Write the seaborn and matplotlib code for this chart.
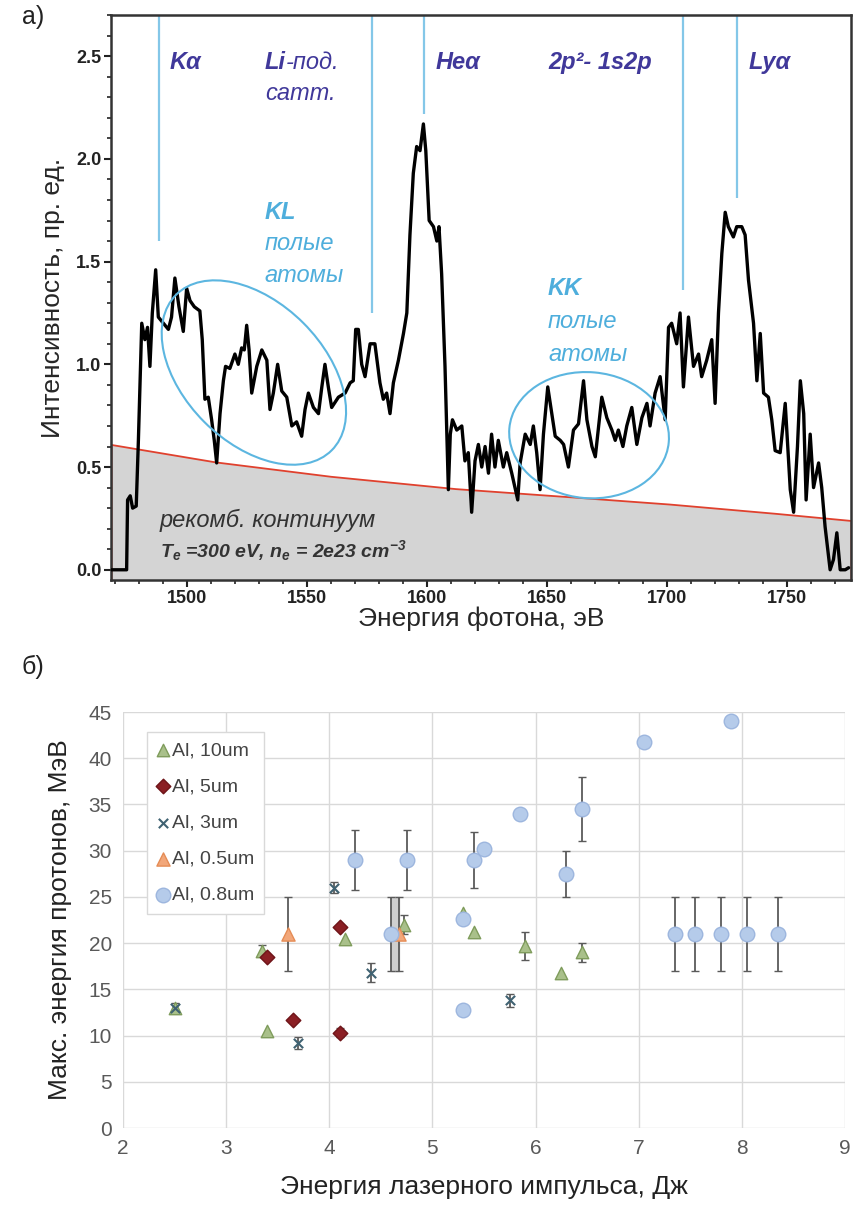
import numpy as np
import matplotlib
matplotlib.use("Agg")
import matplotlib.pyplot as plt
import matplotlib.transforms as mtransforms
from matplotlib.patches import Ellipse
from matplotlib.ticker import MultipleLocator
import seaborn as sns

# ---- panel a) spectrum ----
energy_ev = [1468.5, 1475.0, 1475.4, 1476.5, 1477.5, 1479.0, 1479.9, 1481.3, 1482.6, 1483.7,
             1484.7, 1485.7, 1487.1, 1488.2, 1490.3, 1492.4, 1493.7, 1495.1, 1496.8, 1498.6,
             1500.0, 1501.4, 1503.2, 1505.5, 1506.5, 1507.6, 1509.0, 1510.4, 1511.5, 1512.5,
             1513.9, 1515.3, 1516.2, 1518.0, 1520.1, 1521.5, 1522.9, 1524.0, 1525.0, 1526.0,
             1527.1, 1529.2, 1531.3, 1533.4, 1534.7, 1536.1, 1537.9, 1539.6, 1541.7, 1543.8,
             1545.8, 1547.9, 1549.3, 1550.7, 1552.8, 1554.9, 1556.3, 1557.6, 1559.0, 1560.4,
             1563.2, 1566.0, 1568.1, 1569.4, 1570.4, 1571.5, 1572.9, 1574.3, 1576.4, 1578.4,
             1580.5, 1581.9, 1583.3, 1584.7, 1586.1, 1588.2, 1590.3, 1591.7, 1593.0, 1594.4,
             1595.8, 1597.2, 1598.6, 1599.6, 1601.0, 1602.8, 1604.2, 1605.1, 1606.2, 1607.6,
             1609.0, 1609.8, 1610.7, 1612.5, 1614.6, 1615.9, 1617.3, 1618.7, 1620.1, 1621.5,
             1622.9, 1624.3, 1625.7, 1627.0, 1628.4, 1629.8, 1631.9, 1633.3, 1635.4, 1637.9,
             1638.9, 1641.0, 1643.1, 1644.4, 1645.8, 1647.2, 1648.6, 1650.4, 1652.1, 1653.5,
             1655.6, 1657.0, 1659.0, 1661.1, 1663.2, 1665.3, 1666.7, 1668.8, 1670.2, 1672.9,
             1675.0, 1677.1, 1678.5, 1679.8, 1681.7, 1683.3, 1685.4, 1687.5, 1689.6, 1691.7,
             1693.0, 1695.1, 1697.2, 1699.3, 1700.7, 1702.0, 1704.1, 1705.5, 1706.9, 1709.0,
             1711.1, 1713.2, 1714.5, 1716.6, 1718.7, 1720.1, 1721.5, 1722.9, 1724.3, 1725.6,
             1727.7, 1729.1, 1731.2, 1732.6, 1734.0, 1736.1, 1737.5, 1738.9, 1740.3, 1742.3,
             1743.7, 1745.1, 1747.2, 1749.3, 1751.4, 1752.8, 1754.4, 1755.6, 1757.0, 1758.0,
             1759.7, 1761.1, 1763.2, 1764.5, 1765.9, 1768.0, 1769.4, 1770.8, 1772.2, 1774.3,
             1775.7]
intensity = [0.00, 0.00, 0.34, 0.36, 0.30, 0.31, 0.63, 1.20, 1.12, 1.18,
             0.99, 1.25, 1.46, 1.23, 1.20, 1.17, 1.23, 1.42, 1.28, 1.16,
             1.37, 1.31, 1.28, 1.26, 1.12, 0.83, 0.84, 0.73, 0.63, 0.52,
             0.76, 0.92, 0.99, 0.98, 1.05, 1.00, 1.08, 1.07, 1.19, 1.07,
             0.86, 0.99, 1.07, 1.02, 0.78, 0.86, 1.00, 0.87, 0.84, 0.70,
             0.72, 0.65, 0.78, 0.86, 0.79, 0.76, 0.89, 1.00, 0.89, 0.79,
             0.84, 0.86, 0.91, 0.92, 1.17, 1.17, 1.00, 0.94, 1.10, 1.10,
             0.91, 0.83, 0.86, 0.76, 0.91, 1.02, 1.15, 1.25, 1.63, 1.93,
             2.06, 2.04, 2.17, 2.04, 1.70, 1.67, 1.60, 1.67, 1.44, 0.99,
             0.39, 0.66, 0.73, 0.68, 0.70, 0.53, 0.57, 0.28, 0.53, 0.61,
             0.50, 0.60, 0.47, 0.66, 0.50, 0.63, 0.50, 0.57, 0.47, 0.34,
             0.52, 0.66, 0.61, 0.70, 0.57, 0.39, 0.66, 0.89, 0.76, 0.65,
             0.63, 0.61, 0.50, 0.68, 0.71, 0.92, 0.73, 0.60, 0.55, 0.84,
             0.74, 0.68, 0.63, 0.68, 0.60, 0.70, 0.79, 0.61, 0.74, 0.81,
             0.70, 0.86, 0.94, 0.73, 1.18, 1.20, 1.10, 1.25, 0.89, 1.23,
             0.99, 1.05, 0.94, 1.02, 1.12, 0.81, 1.25, 1.54, 1.74, 1.67,
             1.62, 1.67, 1.67, 1.63, 1.41, 1.20, 0.92, 1.15, 0.86, 0.84,
             0.73, 0.58, 0.57, 0.81, 0.39, 0.28, 0.60, 0.92, 0.76, 0.34,
             0.66, 0.40, 0.52, 0.40, 0.21, 0.00, 0.05, 0.18, 0.00, 0.00,
             0.01]

# recombination continuum
cont_ev = [1468.5, 1512, 1560, 1612, 1660, 1701, 1745, 1776.7]
cont_int = [0.61, 0.525, 0.455, 0.395, 0.355, 0.32, 0.275, 0.24]

# line markers: energy and where the blue line stops
line_ev = [1488.5, 1577.1, 1599.0, 1706.7, 1729.3]
line_stop = [1.60, 1.25, 2.22, 1.36, 1.81]

# ---- panel б) proton energies ----
al10_x = [2.5, 3.35, 3.4, 4.15, 4.72, 5.3, 5.4, 5.9, 6.25, 6.45]
al10_y = [13.0, 19.2, 10.5, 20.5, 22.0, 23.3, 21.2, 19.7, 16.8, 19.0]
al10_err = [0.5, 0.6, 0, 0, 1.0, 0, 0, 1.5, 0, 1.0]

al5_x = [3.4, 3.65, 4.1, 4.1]
al5_y = [18.5, 11.7, 21.7, 10.3]
al5_err = [0, 0, 0, 0.5]

al3_x = [2.5, 3.7, 4.05, 4.4, 5.75]
al3_y = [13.0, 9.2, 26.0, 16.8, 13.8]
al3_err = [0, 0.7, 0.6, 1.0, 0.7]

al05_x = [3.6, 4.68]
al05_y = [21.0, 21.0]
al05_err = [4.0, 4.0]

al08_x = [4.25, 4.6, 4.75, 5.3, 5.3, 5.4, 5.5, 5.85, 6.3, 6.45, 7.05, 7.35, 7.55, 7.8, 7.9, 8.05, 8.35]
al08_y = [29.0, 21.0, 29.0, 22.6, 12.8, 29.0, 30.2, 34.0, 27.5, 34.5, 41.8, 21.0, 21.0, 21.0, 44.0, 21.0, 21.0]
al08_err = [3.2, 4.0, 3.2, 0, 0, 3.0, 0, 0, 2.5, 3.5, 0, 4.0, 4.0, 4.0, 0, 4.0, 4.0]

sns.set_style("ticks")
plt.rcParams['font.family'] = ['Liberation Sans', 'DejaVu Sans']
plt.rcParams['mathtext.default'] = 'regular'

fig = plt.figure(figsize=(8.54, 12.14), dpi=100)
ax1 = fig.add_axes([0.130, 0.5222, 0.8665, 0.4654])
ax2 = fig.add_axes([0.1440, 0.0708, 0.8454, 0.3427])

dark = '#40389a'
light = '#4eaedc'

# --- top panel ---
ax1.fill_between(cont_ev, cont_int, -0.1, facecolor='#d4d4d4', edgecolor='#e0412e', lw=1.3, zorder=1)
sns.lineplot(x=energy_ev, y=intensity, ax=ax1, color='black', lw=2.4, estimator=None, sort=False, zorder=3)
ax1.vlines(line_ev, line_stop, 2.70, color='#84c7e8', lw=1.6, zorder=2)

ax1.set_xlim(1468.5, 1776.7)
ax1.set_ylim(-0.05, 2.70)
ax1.xaxis.set_major_locator(MultipleLocator(50))
ax1.xaxis.set_minor_locator(MultipleLocator(10))
ax1.yaxis.set_major_locator(MultipleLocator(0.5))
ax1.yaxis.set_minor_locator(MultipleLocator(0.1))
ax1.yaxis.set_major_formatter(plt.FormatStrFormatter('%.1f'))
ax1.tick_params(which='major', direction='out', length=5, width=1.5, labelsize=13, colors='#222', pad=2)
ax1.tick_params(which='minor', direction='out', length=3, width=1.2, colors='#222')
for lab in ax1.get_xticklabels() + ax1.get_yticklabels():
    lab.set_fontweight('bold')
for sp in ax1.spines.values():
    sp.set_linewidth(1.8)
    sp.set_color('#333')
    sp.set_visible(True)
ax1.set_xlabel('Энергия фотона, эВ', fontsize=19, labelpad=0)
ax1.set_ylabel('Интенсивность, пр. ед.', fontsize=19, labelpad=8)

bi = dict(fontweight='bold', style='italic', fontsize=17, color=dark, va='center')
ax1.text(1493.0, 2.47, 'Kα', **bi)
li = ax1.text(1532.6, 2.47, 'Li', **bi)
ax1.annotate('-под.', xy=(1, 0.5), xycoords=li, fontsize=17, style='italic', color=dark, va='center')
ax1.text(1532.6, 2.32, 'сатт.', fontsize=17, style='italic', color=dark, va='center')
ax1.text(1603.5, 2.47, 'Heα', **bi)
ax1.text(1650.5, 2.47, '2p²- 1s2p', **bi)
ax1.text(1733.9, 2.47, 'Lyα', **bi)

ax1.text(1532.6, 1.74, 'KL', fontsize=17, fontweight='bold', style='italic', color=light, va='center')
ax1.text(1532.6, 1.59, 'полые', fontsize=17, style='italic', color=light, va='center')
ax1.text(1532.6, 1.43, 'атомы', fontsize=17, style='italic', color=light, va='center')
ax1.text(1650.5, 1.37, 'KK', fontsize=17, fontweight='bold', style='italic', color=light, va='center')
ax1.text(1650.5, 1.21, 'полые', fontsize=17, style='italic', color=light, va='center')
ax1.text(1650.5, 1.05, 'атомы', fontsize=17, style='italic', color=light, va='center')

ax1.text(1488.9, 0.238, 'рекомб. континуум', fontsize=17, style='italic', color='#333', va='center')
ax1.text(1488.9, 0.095, r'$T_e$ =300 eV, $n_e$ = 2e23 cm$^{-3}$', fontsize=14,
         style='italic', fontweight='bold', color='#333', va='center')

# ellipses drawn in pixel size around a data centre
for cx, cy, w, h, ang in [(1528.0, 0.96, 2.20, 1.40, -45), (1667.6, 0.655, 1.60, 1.26, -5)]:
    tr = fig.dpi_scale_trans + mtransforms.ScaledTranslation(cx, cy, ax1.transData)
    ax1.add_patch(Ellipse((0, 0), w, h, angle=ang, transform=tr, fill=False,
                          edgecolor='#5cb6e0', lw=1.5, zorder=4))

fig.text(0.039, 0.986, 'a)', fontsize=18, ha='center', va='center', color='#222')
fig.text(0.039, 0.4506, 'б)', fontsize=18, ha='center', va='center', color='#222')

# --- bottom panel ---
def err_series(x, y, e):
    xs = [a for a, k in zip(x, e) if k > 0]
    ys = [b for b, k in zip(y, e) if k > 0]
    es = [k for k in e if k > 0]
    ax2.errorbar(xs, ys, yerr=es, fmt='none', ecolor='#5a5a5a', elinewidth=1.3, capsize=3, zorder=2)

err_series(al10_x, al10_y, al10_err)
err_series(al5_x, al5_y, al5_err)
err_series(al3_x, al3_y, al3_err)
err_series(al05_x, al05_y, al05_err)
err_series(al08_x, al08_y, al08_err)
# the shaded band between the two overlapping bars near 4.6 J
ax2.fill_betweenx([17, 25], 4.6, 4.68, color='#cfcfcf', zorder=1)

sns.scatterplot(x=al10_x, y=al10_y, ax=ax2, marker='^', s=80, color='#a9c08a', edgecolor='#7f9c5c',
                linewidth=1, label='Al, 10um', zorder=3)
sns.scatterplot(x=al5_x, y=al5_y, ax=ax2, marker='D', s=55, color='#8b1f24', edgecolor='#6e1418',
                linewidth=1, label='Al, 5um', zorder=3)
sns.scatterplot(x=al3_x, y=al3_y, ax=ax2, marker='x', s=45, color='#3f6272', linewidth=1.5,
                label='Al, 3um', zorder=3)
sns.scatterplot(x=al05_x, y=al05_y, ax=ax2, marker='^', s=90, color='#f2a77a', edgecolor='#e58c55',
                linewidth=1, label='Al, 0.5um', zorder=3)
sns.scatterplot(x=al08_x, y=al08_y, ax=ax2, marker='o', s=110, color='#b5cbea', edgecolor='#9db6de',
                linewidth=1, label='Al, 0.8um', zorder=3)

ax2.set_xlim(2, 9)
ax2.set_ylim(0, 45)
ax2.xaxis.set_major_locator(MultipleLocator(1))
ax2.yaxis.set_major_locator(MultipleLocator(5))
ax2.grid(True, color='#d9d9d9', lw=1)
ax2.set_axisbelow(True)
for sp in ax2.spines.values():
    sp.set_visible(False)
ax2.tick_params(length=0, labelsize=15, colors='#595959', pad=8)
ax2.set_xlabel('Энергия лазерного импульса, Дж', fontsize=19, color='#222', labelpad=12)
ax2.set_ylabel('Макс. энергия протонов, МэВ', fontsize=19, color='#222', labelpad=12)
leg = ax2.legend(loc='upper left', bbox_to_anchor=(0.02, 0.975), fontsize=14, frameon=True,
                 fancybox=False, edgecolor='#d9d9d9', framealpha=1, labelspacing=0.95,
                 handlelength=0.6, handletextpad=0.2, borderpad=0.5)
for t in leg.get_texts():
    t.set_color('#444')

fig.savefig('out.png', dpi=100)
